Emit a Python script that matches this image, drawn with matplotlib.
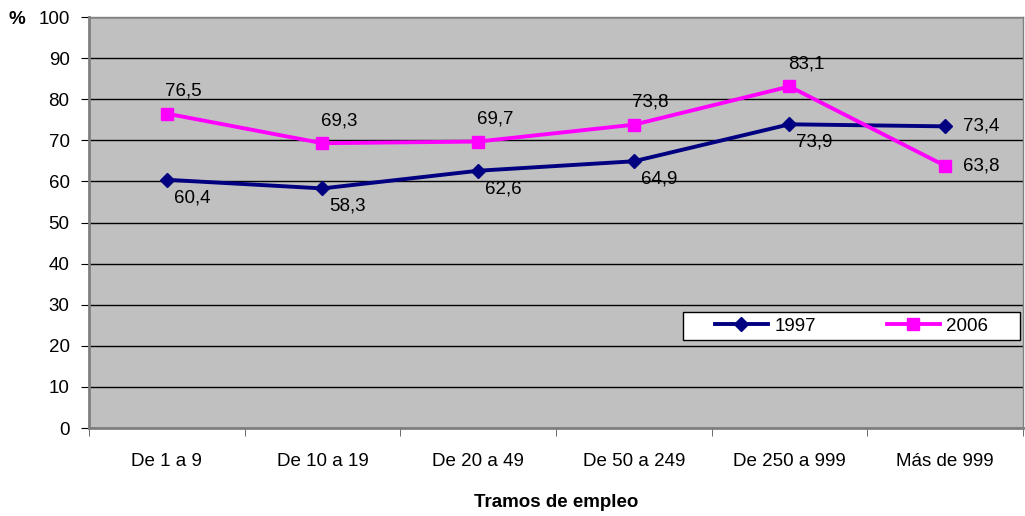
import numpy as np
import matplotlib
matplotlib.use("Agg")
import matplotlib.pyplot as plt
from matplotlib.ticker import FixedLocator
from matplotlib.patches import Rectangle

plt.rcParams['font.family'] = ['Liberation Sans', 'DejaVu Sans']

categories = ['De 1 a 9', 'De 10 a 19', 'De 20 a 49', 'De 50 a 249', 'De 250 a 999', 'Más de 999']
vals_1997 = [60.4, 58.3, 62.6, 64.9, 73.9, 73.4]
vals_2006 = [76.5, 69.3, 69.7, 73.8, 83.1, 63.8]
yticks = list(range(0, 101, 10))

FS = 13.5

fig = plt.figure(figsize=(10.25, 5.16), dpi=100)
ax = fig.add_axes([0.0868, 0.1705, 0.9112, 0.7965])
ax.set_facecolor('#C0C0C0')

x = np.arange(len(categories))
ax.plot(x, vals_1997, color='#000080', lw=2.8, marker='D', ms=7.5, label='1997', zorder=3)
ax.plot(x, vals_2006, color='#FF00FF', lw=2.8, marker='s', ms=8, label='2006', zorder=3)

ax.set_xlim(-0.5, len(categories) - 0.5)
ax.set_ylim(0, 100)
ax.set_yticks(yticks)
ax.yaxis.grid(True, color='black', lw=1)
ax.set_axisbelow(True)
ax.set_xticks(x)
ax.set_xticklabels(categories)
ax.xaxis.set_minor_locator(FixedLocator(np.arange(-0.5, len(categories), 1)))
ax.tick_params(axis='x', which='major', length=0, pad=18, labelsize=FS)
ax.tick_params(axis='x', which='minor', length=6, direction='out', color='#555555')
ax.tick_params(axis='y', length=6, direction='out', pad=8, labelsize=FS)

for s in ['top', 'right']:
    ax.spines[s].set_color('#808080')
    ax.spines[s].set_linewidth(1)
ax.spines['left'].set_color('#808080')
ax.spines['left'].set_linewidth(2)
ax.spines['bottom'].set_color('#808080')
ax.spines['bottom'].set_linewidth(2)

# data labels
for i, v in enumerate(vals_1997):
    if i == len(vals_1997) - 1:
        ax.annotate(f'{v:.1f}'.replace('.', ','), (i, v), xytext=(13, 0),
                    textcoords='offset points', ha='left', va='center', fontsize=FS)
    else:
        ax.annotate(f'{v:.1f}'.replace('.', ','), (i, v), xytext=(18, -13),
                    textcoords='offset points', ha='center', va='center', fontsize=FS)
for i, v in enumerate(vals_2006):
    if i == len(vals_2006) - 1:
        ax.annotate(f'{v:.1f}'.replace('.', ','), (i, v), xytext=(13, 0),
                    textcoords='offset points', ha='left', va='center', fontsize=FS)
    else:
        ax.annotate(f'{v:.1f}'.replace('.', ','), (i, v), xytext=(12, 16),
                    textcoords='offset points', ha='center', va='center', fontsize=FS)

fig.text(0.008, 0.962, '%', fontsize=FS, fontweight='bold', va='center')
# axis title placed in figure coords so it stays inside the canvas
fig.text(0.0868 + 0.9112 / 2, 0.026, 'Tramos de empleo', fontsize=FS, fontweight='bold',
         ha='center', va='center')

# legend box
box = Rectangle((0.636, 0.214), 0.361, 0.068, transform=ax.transAxes, facecolor='white',
                edgecolor='black', lw=1, zorder=5)
ax.add_patch(box)
leg = ax.legend(loc='center', bbox_to_anchor=(0.636 + 0.361 / 2, 0.214 + 0.068 / 2),
                ncol=2, frameon=False, fontsize=FS, handlelength=2.8, handletextpad=0.35,
                columnspacing=3.8, borderpad=0, borderaxespad=0)
leg.set_zorder(6)

fig.savefig('out.png', dpi=100)
